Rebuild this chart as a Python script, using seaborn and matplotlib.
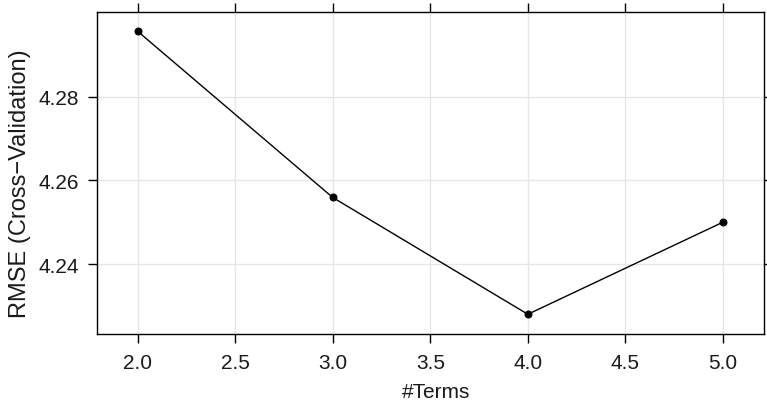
import matplotlib
matplotlib.use("Agg")
import matplotlib.pyplot as plt
import seaborn as sns
import pandas as pd

# values
terms = [2, 3, 4, 5]
rmse = [4.2956, 4.2559, 4.2280, 4.2500]
x_ticks = [2.0, 2.5, 3.0, 3.5, 4.0, 4.5, 5.0]
y_ticks = [4.24, 4.26, 4.28]

df = pd.DataFrame({"terms": terms, "rmse": rmse})

sns.set_theme(style="white")
plt.rcParams["font.family"] = ["Liberation Sans", "DejaVu Sans"]

fig = plt.figure(figsize=(7.67, 4.06), dpi=100)
ax = fig.add_axes([0.126, 0.175, 0.870, 0.794])

sns.lineplot(data=df, x="terms", y="rmse", ax=ax, color="black", linewidth=1.0,
             marker="o", markersize=5, markeredgecolor="black")

ax.set_xlim(1.79, 5.21)
ax.set_ylim(4.2233, 4.3003)
ax.set_xticks(x_ticks)
ax.set_xticklabels([f"{t:.1f}" for t in x_ticks])
ax.set_yticks(y_ticks)
ax.set_yticklabels([f"{t:.2f}" for t in y_ticks])

ax.grid(True, color="#e6e6e6", linewidth=1.0)
ax.set_axisbelow(True)
for s in ax.spines.values():
    s.set_color("black")
    s.set_linewidth(1.0)

ax.tick_params(axis="both", which="both", direction="out", length=6.5, width=1.0,
               color="black", labelsize=15, labelcolor="#1a1a1a",
               top=True, right=True, bottom=True, left=True,
               labeltop=False, labelright=False)
ax.tick_params(axis="x", pad=7)
ax.tick_params(axis="y", pad=6)

ax.set_xlabel("#Terms", fontsize=15, color="#1a1a1a")
ax.set_ylabel("RMSE (Cross\u2212Validation)", fontsize=17, color="#1a1a1a")
ax.xaxis.set_label_coords(0.508, -0.15)
ax.yaxis.set_label_coords(-0.099, 0.47)

fig.savefig("out.png", dpi=100)
